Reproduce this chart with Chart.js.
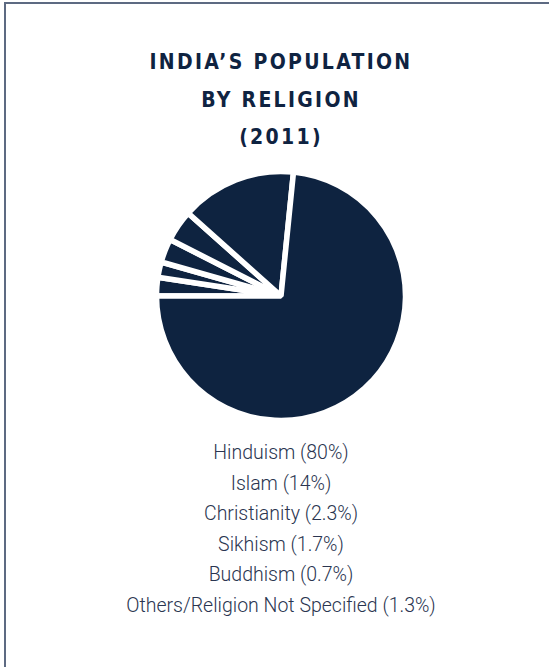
<!DOCTYPE html>
<html>
<head>
    <script src="https://cdn.jsdelivr.net/npm/chart.js"></script>
    <style>
        body { margin: 0; background: #fff; width: 549px; height: 667px; overflow: hidden; position: relative; }
        .frame { position: absolute; left: 4px; top: 2px; width: 600px; height: 700px;
                 border-left: 2px solid #5d6a82; border-top: 2px solid #5d6a82; }
        .title { position: absolute; left: 81px; width: 400px; top: 44px; text-align: center;
                 font-family: "DejaVu Sans Condensed", "DejaVu Sans", sans-serif; font-weight: 900;
                 font-size: 21px; letter-spacing: 2.3px; line-height: 37.5px; color: #0f2341; }
        .pie { position: absolute; left: 150.5px; top: 165.5px; width: 260px; height: 260px; }
        #legend { position: absolute; left: 81px; width: 400px; top: 438px; text-align: center;
                  font-family: Roboto, sans-serif; font-weight: 300; font-size: 19.5px;
                  line-height: 30.6px; color: #2a3550; }
    </style>
</head>
<body>
    <div class="frame"></div>
    <div class="title">INDIA’S POPULATION<br>BY RELIGION<br>(2011)</div>
    <div class="pie"><canvas id="religionChart" width="260" height="260"></canvas></div>
    <div id="legend"></div>

    <script>
        // legend order, as listed under the pie
        const religions = ['Hinduism', 'Islam', 'Christianity', 'Sikhism', 'Buddhism', 'Others/Religion Not Specified'];
        const labelPercents = ['80%', '14%', '2.3%', '1.7%', '0.7%', '1.3%'];
        // slice shares as drawn in the picture (%)
        const sliceShares = [73.4, 15.0, 4.1, 3.1, 2.0, 2.4];

        // the picture runs counter-clockwise from 9 o'clock, so feed Chart.js the reversed order
        const chartLabels = religions.slice().reverse();
        const chartValues = sliceShares.slice().reverse();

        document.getElementById('legend').innerHTML = religions
            .map((r, i) => `<div>${r} (${labelPercents[i]})</div>`).join('');

        new Chart(document.getElementById('religionChart'), {
            type: 'pie',
            data: {
                labels: chartLabels,
                datasets: [{
                    data: chartValues,
                    backgroundColor: '#0e2340',
                    borderColor: '#ffffff',
                    borderWidth: 5.5,
                    radius: 124.5
                }]
            },
            options: {
                responsive: false,
                animation: false,
                rotation: 270,
                layout: { padding: 0 },
                plugins: {
                    legend: { display: false },
                    tooltip: { enabled: false }
                }
            }
        });
    </script>
</body>
</html>
